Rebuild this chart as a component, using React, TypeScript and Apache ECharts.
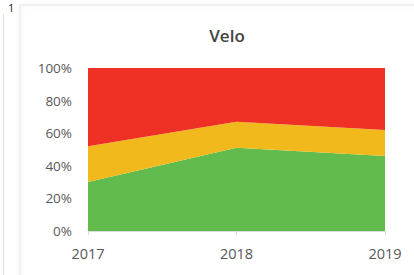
import React, { useEffect, useRef } from "react";
import * as echarts from "echarts";

const years = ["2017", "2018", "2019"];
const greenValues = [30, 51, 46];
const yellowValues = [22, 16, 16];
const redValues = [48, 33, 38];
const yTicks = [0, 20, 40, 60, 80, 100];

export default function App() {
  const ref = useRef<HTMLDivElement>(null);
  useEffect(() => {
    if (!ref.current) return;
    const chart = echarts.init(ref.current, null, { renderer: "svg" });
    const labelColor = "#595959";
    const mk = (name: string, data: number[], color: string) => ({
      name,
      type: "line",
      stack: "total",
      data,
      symbol: "none",
      lineStyle: { width: 0 },
      areaStyle: { color, opacity: 1 },
      itemStyle: { color },
    });
    chart.setOption({
      animation: false,
      backgroundColor: "#ffffff",
      title: {
        text: "Velo",
        left: 222,
        textAlign: "center",
        top: 22,
        textStyle: { fontFamily: "Open Sans", fontSize: 17, fontWeight: 600, color: "#444" },
      },
      grid: { left: 88, right: 29, top: 68, bottom: 44 },
      xAxis: {
        type: "category",
        data: years,
        boundaryGap: false,
        axisLine: { lineStyle: { color: "#d9d9d9" } },
        axisTick: { show: true, length: 4, lineStyle: { color: "#d9d9d9" } },
        axisLabel: { color: labelColor, fontFamily: "Open Sans", fontSize: 14.5, margin: 15 },
      },
      yAxis: {
        type: "value",
        min: yTicks[0],
        max: yTicks[yTicks.length - 1],
        interval: 20,
        axisLine: { show: false },
        axisTick: { show: false },
        splitLine: { show: false },
        axisLabel: { color: labelColor, fontFamily: "Open Sans", fontSize: 13.5, margin: 16, formatter: "{value}%" },
      },
      series: [
        mk("Green", greenValues, "#62bb4d"),
        mk("Yellow", yellowValues, "#f2b91d"),
        mk("Red", redValues, "#ee3124"),
      ],
      graphic: [
        { type: "line", shape: { x1: 3.5, y1: 14, x2: 3.5, y2: 275 }, style: { stroke: "#e0e0e0", lineWidth: 1 } },
        {
          type: "rect",
          shape: { x: 20, y: 5, width: 420, height: 290 },
          style: { fill: "none", stroke: "#e6e6e6", lineWidth: 1, shadowBlur: 4, shadowColor: "rgba(0,0,0,0.12)" },
          z: -1,
        },
        {
          type: "text",
          x: 8,
          y: 2,
          style: { text: "1", fontSize: 11, fontFamily: "Open Sans", fill: "#222", verticalAlign: "top" },
        },
      ],
    });
    return () => chart.dispose();
  }, []);
  return <div ref={ref} style={{ position: "fixed", left: 0, top: 0, width: 414, height: 275 }} />;
}
